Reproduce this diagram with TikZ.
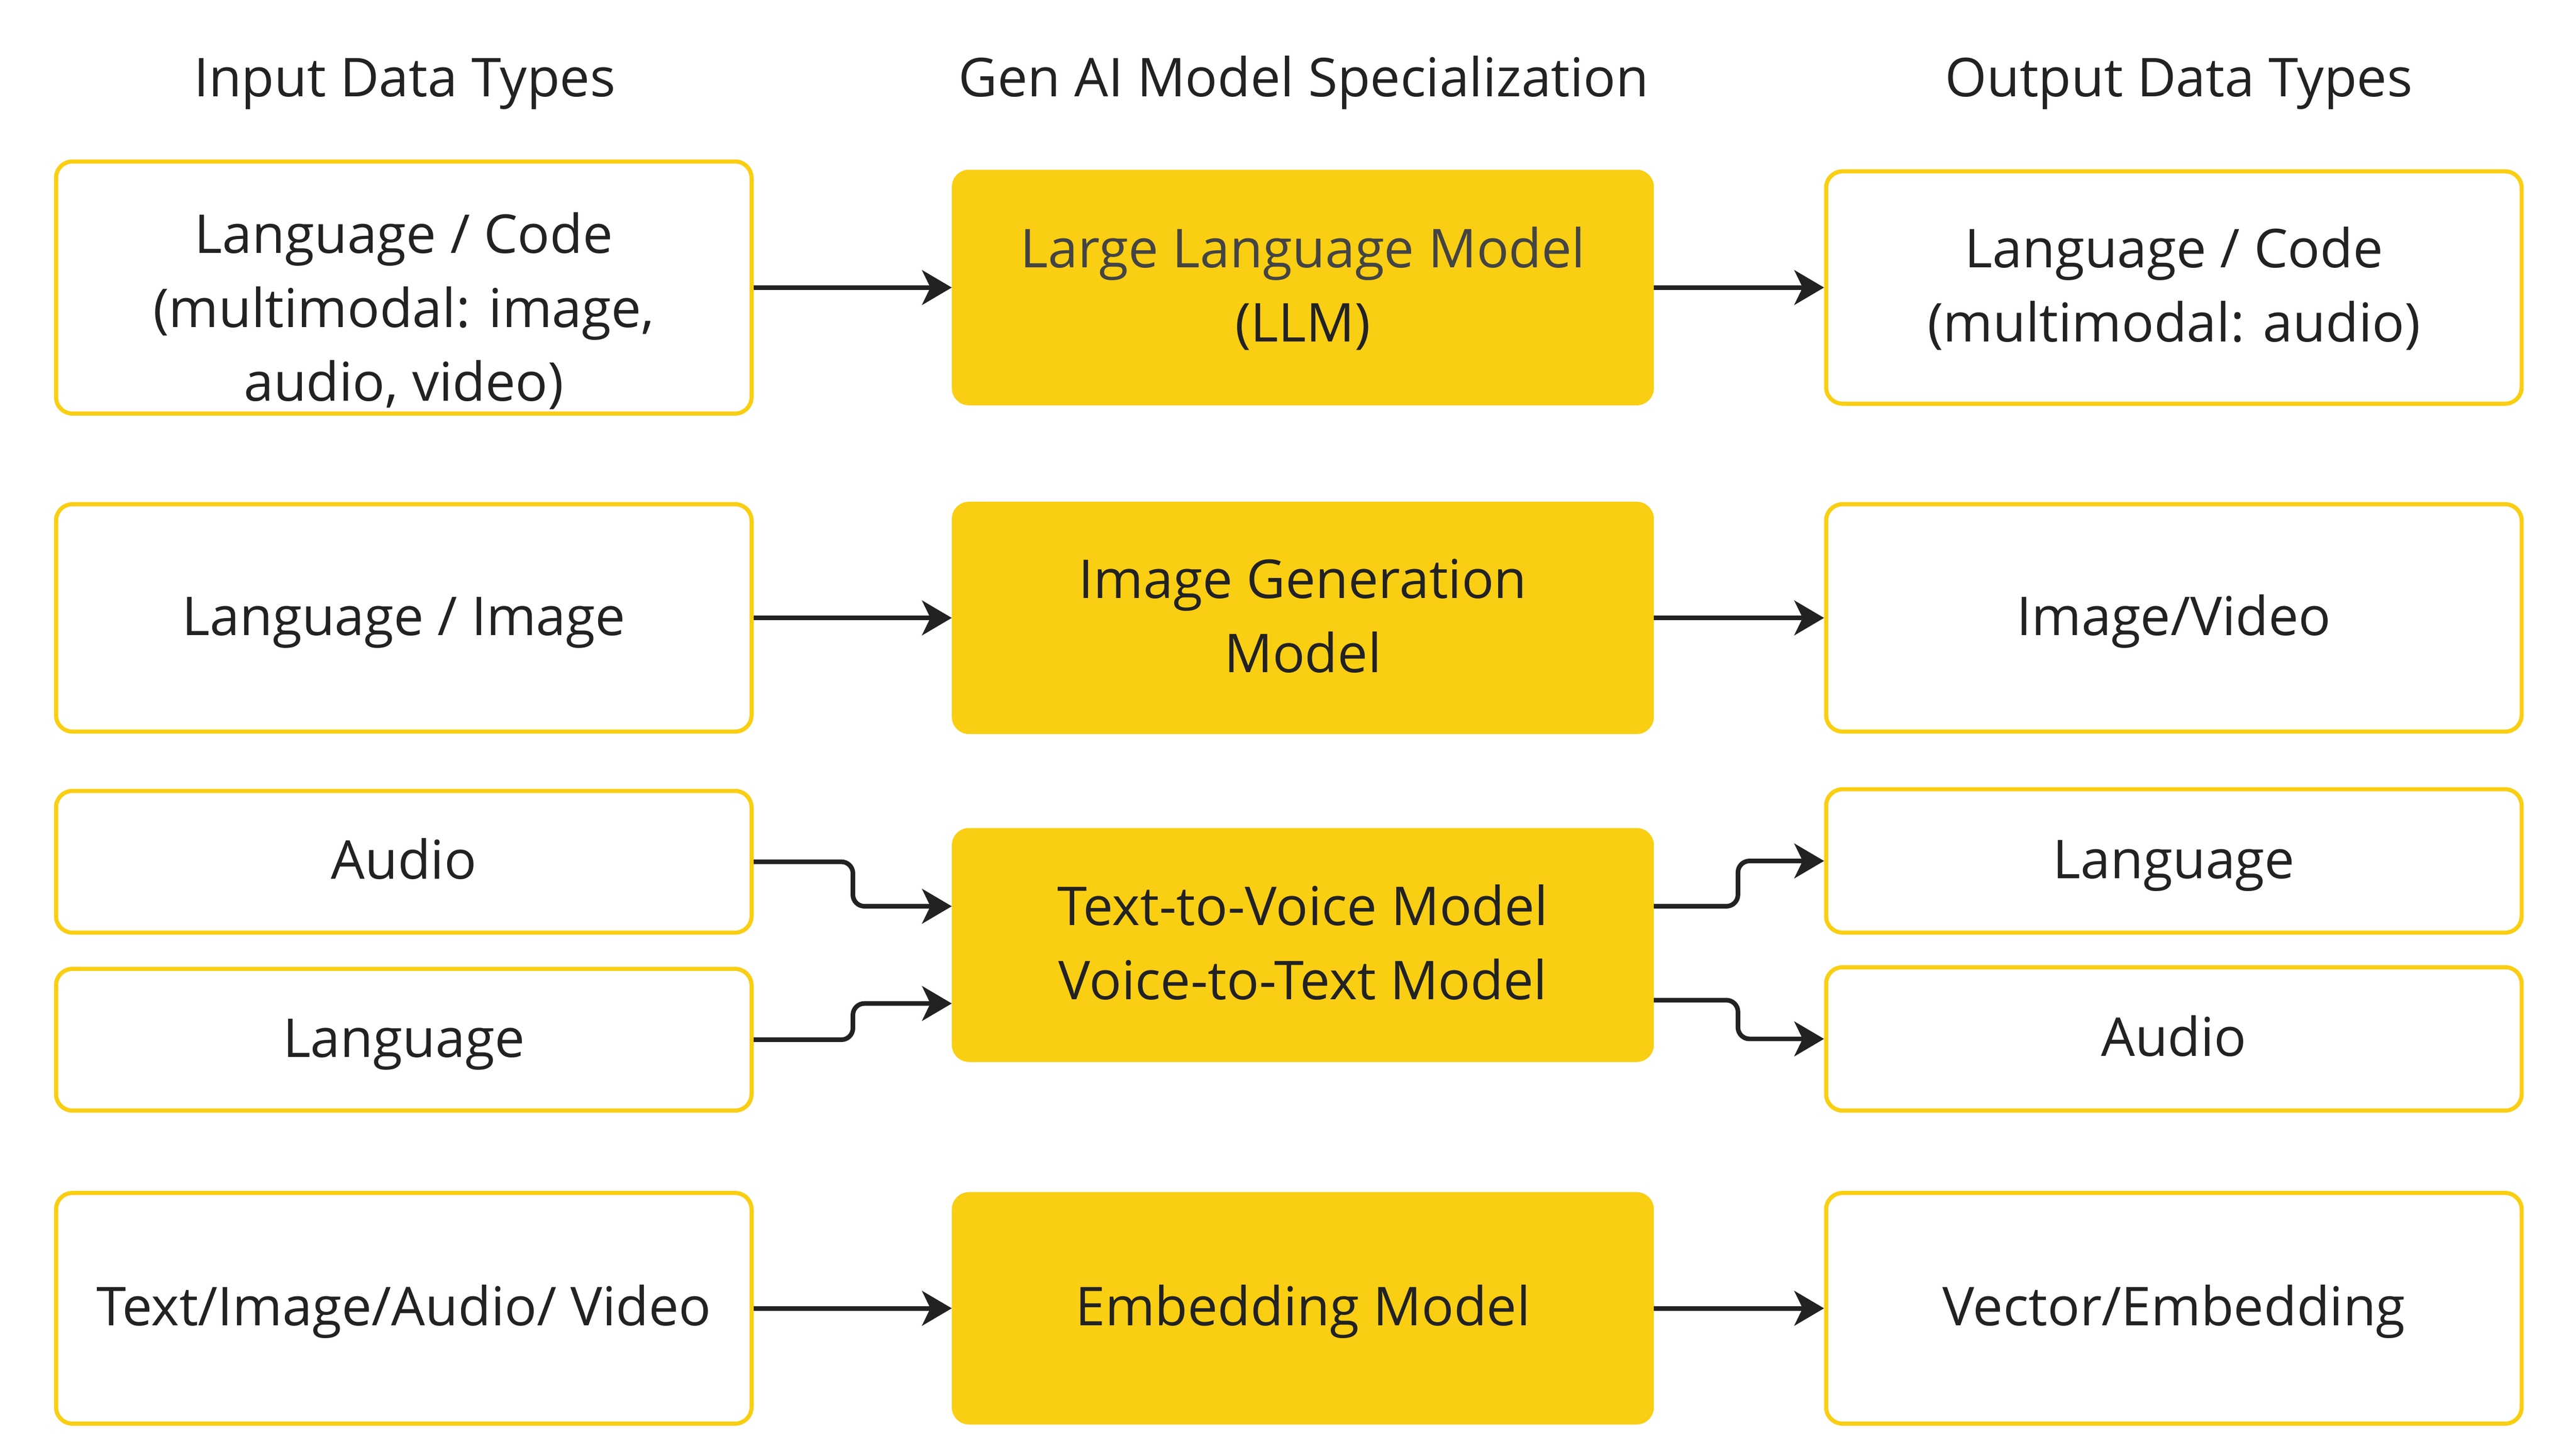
\documentclass[tikz,border=0pt]{standalone}
\usepackage{fontspec}
\setmainfont{Open Sans}
\usetikzlibrary{arrows.meta}
\definecolor{ybox}{HTML}{FACE12}
\definecolor{ink}{HTML}{222222}
\definecolor{inkgray}{HTML}{444444}
\newcommand{\ls}{\rule[-9pt]{0pt}{39pt}}
\begin{document}
\begin{tikzpicture}[x=1pt,y=-1pt,
  txt/.style={text=ink, font=\fontsize{32.5}{45}\selectfont, align=center},
  inbox/.style={draw=ybox, line width=2.5pt, fill=white, rounded corners=10pt, minimum width=422pt, inner sep=0pt, txt},
  modbox/.style={fill=ybox, draw=ybox, line width=1pt, rounded corners=10pt, minimum width=425pt, inner sep=0pt, txt},
  coltitle/.style={txt, anchor=base, inner sep=0pt},
  arr/.style={draw=ink, line width=2.8pt, -{Stealth[length=18pt,width=21pt,inset=5pt]}, rounded corners=7pt},
]
\useasboundingbox (0,0) rectangle (1563,881.1);

% column titles
\node[coltitle] (tin)  at (245.5,58.6) {Input Data Types};
\node[coltitle] (tmod) at (791,58.6) {Gen AI Model Specialization};
\node[coltitle] (tout) at (1322,58.6) {Output Data Types};

% row 1
\node[inbox, minimum height=153pt, label={[txt, inner sep=0pt, yshift=-13.5pt]center:{\ls Language / Code\\\ls (multimodal: image,\\\ls audio, video)}}] (lin1) at (245,174.5) {};
\node[modbox, minimum height=142pt] (mid1) at (790.5,174.5) {\ls{\color{inkgray}Large Language Model}\\\ls (LLM)};
\node[inbox, minimum height=141pt] (rout1) at (1319,174.5) {\ls Language / Code\\\ls (multimodal: audio)};

% row 2
\node[inbox, minimum height=138pt] (lin2) at (245,375) {\ls Language / Image};
\node[modbox, minimum height=140pt] (mid2) at (790.5,375) {\ls Image Generation\\\ls Model};
\node[inbox, minimum height=138pt] (rout2) at (1319,375) {\ls Image/Video};

% row 3
\node[inbox, minimum height=86pt] (lin3a) at (245,523) {\ls Audio};
\node[inbox, minimum height=86pt] (lin3b) at (245,631) {\ls Language};
\node[modbox, minimum height=141pt] (mid3) at (790.5,573.5) {\ls Text-to-Voice Model\\\ls Voice-to-Text Model};
\node[inbox, minimum height=87pt] (rout3a) at (1319,522.5) {\ls Language};
\node[inbox, minimum height=87pt] (rout3b) at (1319,630.5) {\ls Audio};

% row 4
\node[inbox, minimum height=140pt] (lin4) at (245,794) {\ls Text/Image/Audio/ Video};
\node[modbox, minimum height=140pt] (mid4) at (790.5,794) {\ls Embedding Model};
\node[inbox, minimum height=140pt] (rout4) at (1319,794) {\ls Vector/Embedding};

% connectors
\draw[arr] (lin1) -- (mid1);
\draw[arr] (mid1) -- (rout1);
\draw[arr] (lin2) -- (mid2);
\draw[arr] (mid2) -- (rout2);
\draw[arr] (lin4) -- (mid4);
\draw[arr] (mid4) -- (rout4);

\coordinate (m3ina)  at (mid3.west |- 0,550);
\coordinate (m3inb)  at (mid3.west |- 0,609);
\coordinate (m3outa) at (mid3.east |- 0,550);
\coordinate (m3outb) at (mid3.east |- 0,607);

\draw[arr] (lin3a.east) -| (517.5,550) -- (m3ina);
\draw[arr] (lin3b.east) -| (517.5,609) -- (m3inb);
\draw[arr] (m3outa) -| (1054.5,522.5) -- (rout3a.west);
\draw[arr] (m3outb) -| (1054.5,630.5) -- (rout3b.west);
\end{tikzpicture}
\end{document}
